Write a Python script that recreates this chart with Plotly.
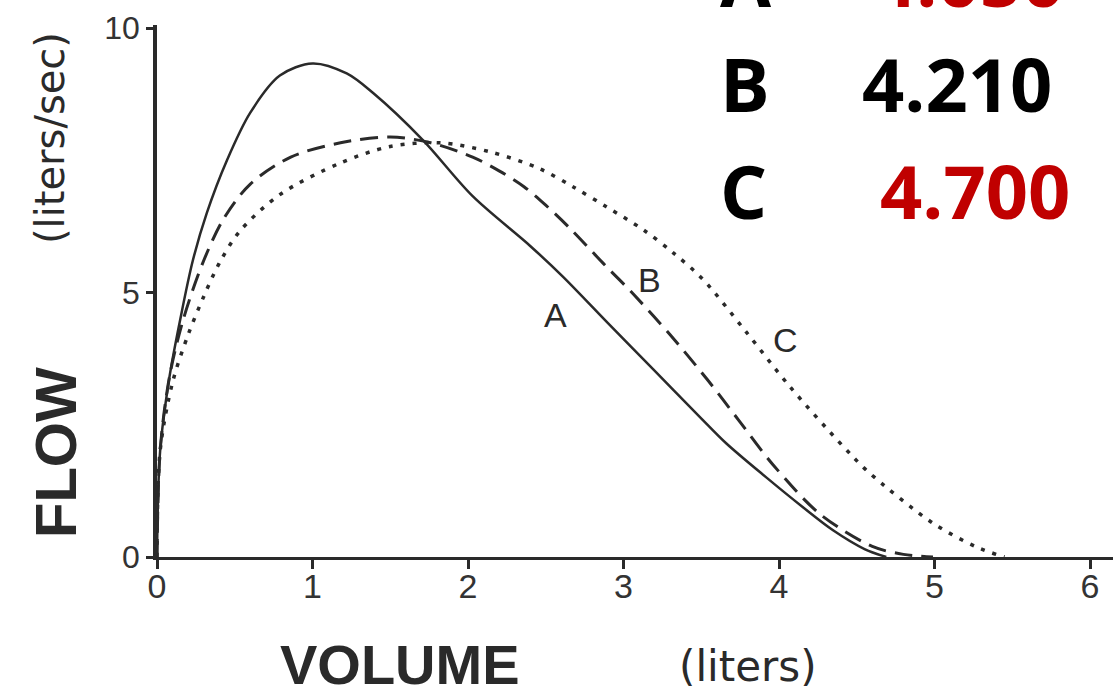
import plotly.graph_objects as go

# Flow-volume curves (expiratory limb) for three subjects
vol_a = [0, 0.02, 0.08, 0.15, 0.23, 0.32, 0.45, 0.60, 0.79, 1.00, 1.22, 1.39, 1.71, 2.03,
         2.40, 2.61, 2.90, 3.19, 3.49, 3.66, 3.92, 4.15, 4.35, 4.55, 4.69]
flow_a = [0, 2.0, 3.4, 4.5, 5.6, 6.5, 7.5, 8.4, 9.1, 9.33, 9.14, 8.77, 7.88, 6.82,
          5.88, 5.30, 4.42, 3.55, 2.65, 2.15, 1.50, 0.95, 0.50, 0.15, 0]

vol_b = [0, 0.02, 0.08, 0.17, 0.30, 0.43, 0.60, 0.86, 1.18, 1.50, 1.76, 2.03, 2.20, 2.36,
         2.50, 2.66, 2.87, 3.06, 3.30, 3.54, 3.75, 3.96, 4.26, 4.60, 4.80, 4.99]
flow_b = [0, 2.0, 3.4, 4.5, 5.6, 6.4, 7.05, 7.56, 7.83, 7.94, 7.83, 7.56, 7.30, 7.00,
          6.65, 6.20, 5.55, 4.98, 4.20, 3.35, 2.55, 1.75, 0.82, 0.20, 0.05, 0]

vol_c = [0, 0.02, 0.10, 0.20, 0.30, 0.40, 0.53, 0.79, 1.18, 1.50, 1.82, 2.14, 2.46, 2.68,
         2.89, 3.13, 3.32, 3.51, 3.79, 4.07, 4.41, 4.57, 4.99, 5.27, 5.45]
flow_c = [0, 2.0, 3.3, 4.2, 4.92, 5.55, 6.15, 6.85, 7.45, 7.76, 7.83, 7.66, 7.34, 6.99,
          6.62, 6.18, 5.75, 5.25, 4.25, 3.22, 2.10, 1.62, 0.64, 0.19, 0]

curve_names = ["A", "B", "C"]
curve_label_pos = [(2.56, 4.57), (3.17, 5.24), (4.04, 4.10)]

x_ticks = [0, 1, 2, 3, 4, 5, 6]
y_ticks = [0, 5, 10]

table_names = ["A", "B", "C"]
table_values = ["4.050", "4.210", "4.700"]
table_colors = ["#C00000", "#000000", "#C00000"]

INK = "#2a2a2a"
PLOT_L, PLOT_B, PLOT_W, PLOT_H = 157, 557, 956, 532


def px(xp):
    return (xp - PLOT_L) / PLOT_W


def py(yp):
    return (PLOT_B - yp) / PLOT_H


fig = go.Figure()
fig.add_trace(go.Scatter(x=vol_a, y=flow_a, mode="lines", name="A",
                         line=dict(color=INK, width=2.5, shape="spline", smoothing=0.9)))
fig.add_trace(go.Scatter(x=vol_b, y=flow_b, mode="lines", name="B",
                         line=dict(color=INK, width=3, dash="18px,9px", shape="spline", smoothing=0.9)))
fig.add_trace(go.Scatter(x=vol_c, y=flow_c, mode="lines", name="C",
                         line=dict(color=INK, width=3.5, dash="4px,8px", shape="spline", smoothing=0.9)))

# Curve letters next to each trace
for name, (vx, vy) in zip(curve_names, curve_label_pos):
    fig.add_annotation(x=vx, y=vy, xref="x", yref="y", text=name, showarrow=False,
                       xanchor="center", yanchor="middle",
                       font=dict(family="Liberation Sans", size=34, color=INK))

# Axis titles
fig.add_annotation(x=px(400), y=py(664), xref="paper", yref="paper",
                   text="<b>VOLUME</b>", showarrow=False, xanchor="center", yanchor="middle",
                   font=dict(family="Liberation Sans", size=56, color=INK))
fig.add_annotation(x=px(748), y=py(666), xref="paper", yref="paper",
                   text="(liters)", showarrow=False, xanchor="center", yanchor="middle",
                   font=dict(family="DejaVu Sans", size=42, color=INK))
fig.add_annotation(x=px(55), y=py(453), xref="paper", yref="paper",
                   text="<b>FLOW</b>", showarrow=False, textangle=-90,
                   xanchor="center", yanchor="middle",
                   font=dict(family="Liberation Sans", size=58, color=INK))
fig.add_annotation(x=px(50), y=py(138), xref="paper", yref="paper",
                   text="(liters/sec)", showarrow=False, textangle=-90,
                   xanchor="center", yanchor="middle",
                   font=dict(family="DejaVu Sans", size=40, color=INK))

# Value table in the upper right
row_centers = [-21, 84, 190]
value_left = [872, 860, 878]
for name, val, col, cy, vx in zip(table_names, table_values, table_colors, row_centers, value_left):
    fig.add_annotation(x=px(718), y=py(cy), xref="paper", yref="paper",
                       text=f"<b>{name}</b>", showarrow=False, xanchor="left", yanchor="middle",
                       font=dict(family="Open Sans", size=74, color="#000000"))
    fig.add_annotation(x=px(vx), y=py(cy), xref="paper", yref="paper",
                       text=f"<b>{val}</b>", showarrow=False, xanchor="left", yanchor="middle",
                       font=dict(family="Open Sans", size=74, color=col))

fig.update_layout(
    width=1113, height=697,
    margin=dict(l=PLOT_L, r=1113 - PLOT_L - PLOT_W, t=PLOT_B - PLOT_H, b=697 - PLOT_B),
    paper_bgcolor="white", plot_bgcolor="white",
    showlegend=False,
    xaxis=dict(range=[0, PLOT_W / 155.5], tickvals=x_ticks, ticktext=[str(v) for v in x_ticks],
               showgrid=False, zeroline=False, showline=True, linecolor=INK, linewidth=3,
               ticks="outside", ticklen=9, tickwidth=2.5, tickcolor=INK,
               ticklabelstandoff=-12,
               tickfont=dict(family="Liberation Sans", size=34, color="#333333")),
    yaxis=dict(range=[0, PLOT_H / 52.9], tickvals=y_ticks, ticktext=[str(v) for v in y_ticks],
               showgrid=False, zeroline=False, showline=True, linecolor=INK, linewidth=3.5,
               ticks="outside", ticklen=7, tickwidth=2.5, tickcolor=INK,
               tickfont=dict(family="Liberation Sans", size=32, color="#333333")),
)

fig.write_html("out.html")
